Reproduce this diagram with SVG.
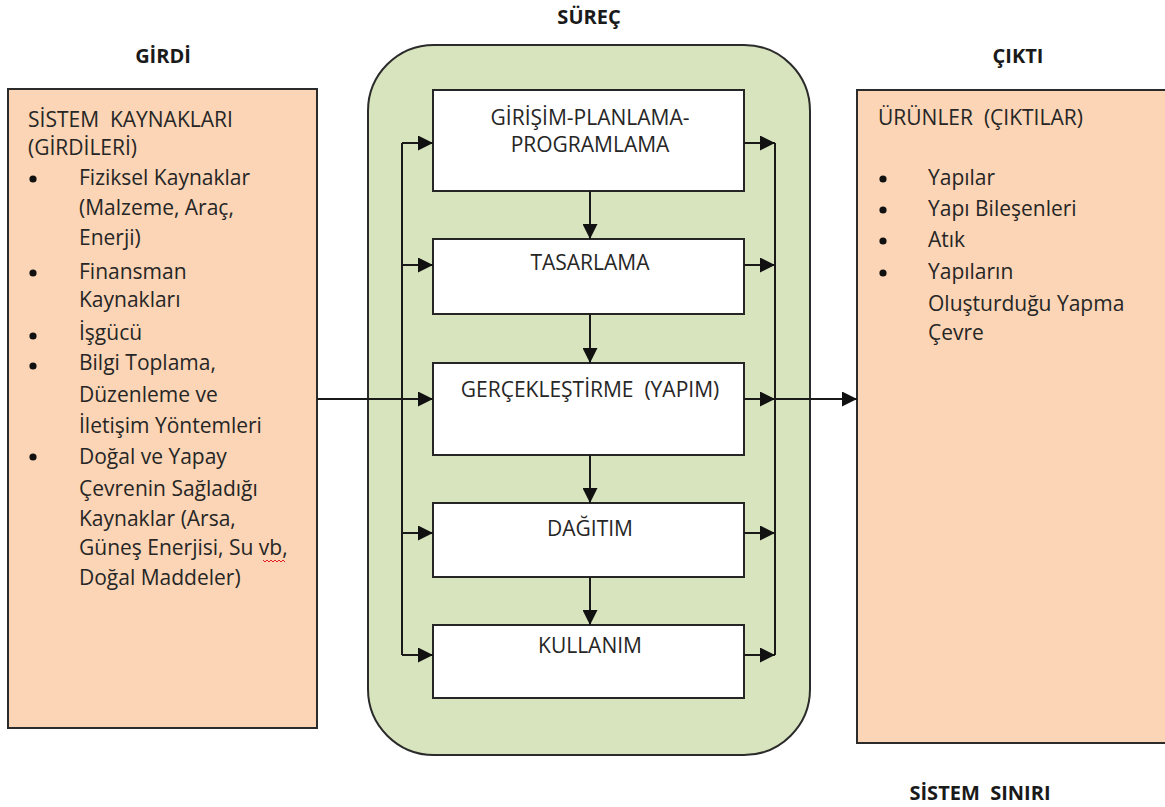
<svg xmlns="http://www.w3.org/2000/svg" width="1165" height="807" viewBox="0 0 1165 807">
<defs>
<style>
.t{font-family:"Open Sans","Liberation Sans",sans-serif;font-size:21px;fill:#262626}
.h{font-family:"Open Sans","Liberation Sans",sans-serif;font-size:20px;font-weight:bold;fill:#1a1a1a;text-anchor:middle}
.c{text-anchor:middle}
.io{fill:#FBD5B5;stroke:#2b2b2b;stroke-width:2}
.pb{fill:#ffffff;stroke:#262626;stroke-width:2}
.ln{fill:none;stroke:#1a1a1a;stroke-width:2}
.bul{fill:#111}
</style>
<marker id="ah" markerUnits="userSpaceOnUse" markerWidth="16" markerHeight="15" refX="15" refY="7.5" orient="auto">
<path d="M0,0 L15,7.5 L0,15 z" fill="#111"/>
</marker>
</defs>
<rect width="1165" height="807" fill="#ffffff"/>

<text class="h" x="163" y="63">GİRDİ</text>
<text class="h" x="589" y="24">SÜREÇ</text>
<text class="h" x="1018" y="63">ÇIKTI</text>
<text class="h" x="980" y="800" xml:space="preserve">SİSTEM  SINIRI</text>

<g id="girdi">
<rect class="io" x="8" y="89" width="309" height="639"/>
<text class="t" x="28" y="127" xml:space="preserve">SİSTEM  KAYNAKLARI</text>
<text class="t" x="28" y="155">(GİRDİLERİ)</text>
<circle class="bul" cx="33" cy="179" r="3.6"/>
<text class="t" x="79" y="185">Fiziksel Kaynaklar</text>
<text class="t" x="79" y="215">(Malzeme, Araç,</text>
<text class="t" x="79" y="245">Enerji)</text>
<circle class="bul" cx="33" cy="273" r="3.6"/>
<text class="t" x="79" y="279">Finansman</text>
<text class="t" x="79" y="307">Kaynakları</text>
<circle class="bul" cx="33" cy="336" r="3.6"/>
<text class="t" x="79" y="340">İşgücü</text>
<circle class="bul" cx="33" cy="366" r="3.6"/>
<text class="t" x="79" y="370">Bilgi Toplama,</text>
<text class="t" x="79" y="402">Düzenleme ve</text>
<text class="t" x="79" y="433">İletişim Yöntemleri</text>
<circle class="bul" cx="33" cy="457" r="3.6"/>
<text class="t" x="79" y="464">Doğal ve Yapay</text>
<text class="t" x="79" y="496">Çevrenin Sağladığı</text>
<text class="t" x="79" y="526">Kaynaklar (Arsa,</text>
<text class="t" x="79" y="555">Güneş Enerjisi, Su vb,</text>
<path d="M263,560 l2,2 l2,-2 l2,2 l2,-2 l2,2 l2,-2 l2,2 l2,-2 l2,2 l2,-2 l2,2" fill="none" stroke="#e02020" stroke-width="1"/>
<text class="t" x="79" y="585">Doğal Maddeler)</text>
</g>

<g id="cikti">
<rect class="io" x="857" y="90" width="315" height="653"/>
<text class="t" x="878" y="125" xml:space="preserve">ÜRÜNLER  (ÇIKTILAR)</text>
<circle class="bul" cx="883" cy="179" r="3.6"/>
<text class="t" x="928" y="185">Yapılar</text>
<circle class="bul" cx="883" cy="210" r="3.6"/>
<text class="t" x="928" y="216">Yapı Bileşenleri</text>
<circle class="bul" cx="883" cy="241" r="3.6"/>
<text class="t" x="928" y="247">Atık</text>
<circle class="bul" cx="883" cy="273" r="3.6"/>
<text class="t" x="928" y="279">Yapıların</text>
<text class="t" x="928" y="311">Oluşturduğu Yapma</text>
<text class="t" x="928" y="340">Çevre</text>
</g>

<g id="surec">
<rect x="368" y="45" width="442" height="710" rx="66" ry="66" fill="#D7E4BD" stroke="#2b2b2b" stroke-width="2"/>
</g>

<g id="n1"><rect class="pb" x="433" y="90" width="311" height="101"/>
<text class="t c" x="590" y="125">GİRİŞİM-PLANLAMA-</text>
<text class="t c" x="590" y="152">PROGRAMLAMA</text></g>
<g id="n2"><rect class="pb" x="433" y="239" width="311" height="75"/>
<text class="t c" x="590" y="270">TASARLAMA</text></g>
<g id="n3"><rect class="pb" x="433" y="363" width="311" height="92"/>
<text class="t c" x="590" y="397" xml:space="preserve">GERÇEKLEŞTİRME  (YAPIM)</text></g>
<g id="n4"><rect class="pb" x="433" y="503" width="311" height="74"/>
<text class="t c" x="590" y="536">DAĞITIM</text></g>
<g id="n5"><rect class="pb" x="433" y="625" width="311" height="73"/>
<text class="t c" x="590" y="653">KULLANIM</text></g>

<g id="connectors">
<path class="ln" d="M402,143 V655"/>
<path class="ln" d="M775,143 V655"/>
<path class="ln" d="M402,143 H433" marker-end="url(#ah)"/>
<path class="ln" d="M402,265 H433" marker-end="url(#ah)"/>
<path class="ln" d="M317,399 H433" marker-end="url(#ah)"/>
<path class="ln" d="M402,533 H433" marker-end="url(#ah)"/>
<path class="ln" d="M402,655 H433" marker-end="url(#ah)"/>
<path class="ln" d="M744,143 H775" marker-end="url(#ah)"/>
<path class="ln" d="M744,265 H775" marker-end="url(#ah)"/>
<path class="ln" d="M744,399 H775" marker-end="url(#ah)"/>
<path class="ln" d="M744,533 H775" marker-end="url(#ah)"/>
<path class="ln" d="M744,655 H775" marker-end="url(#ah)"/>
<path class="ln" d="M775,399 H857" marker-end="url(#ah)"/>
<path class="ln" d="M590,191 V239" marker-end="url(#ah)"/>
<path class="ln" d="M590,314 V363" marker-end="url(#ah)"/>
<path class="ln" d="M590,455 V503" marker-end="url(#ah)"/>
<path class="ln" d="M590,577 V625" marker-end="url(#ah)"/>
</g>
</svg>
